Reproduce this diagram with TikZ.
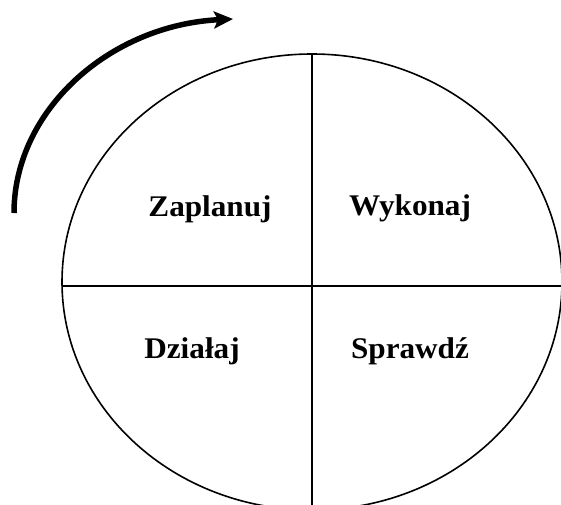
\documentclass[tikz,border=0pt]{standalone}
\usepackage{fontspec}
\setmainfont{Liberation Serif}
\usetikzlibrary{arrows.meta}
\begin{document}
\begin{tikzpicture}[x=1pt,y=-1pt,
  lbl/.style={font=\fontsize{30}{34}\selectfont\bfseries, anchor=base, inner sep=0pt},
  thinline/.style={line width=1.6pt, black},
  cyclearrow/.style={line width=5.5pt, line cap=butt, -{Stealth[length=19pt,width=17pt,inset=4pt]}}]
\useasboundingbox (0,0) rectangle (561,504);
\clip (0,0) rectangle (561,504);
\fill[white] (0,0) rectangle (561,504);
\draw[thinline] (312,282) ellipse [x radius=250, y radius=228];
\coordinate (top) at (312,54);
\coordinate (bot) at (312,510);
\coordinate (lft) at (62,286);
\coordinate (rgt) at (565,286);
\draw[thinline] (top) -- (bot);
\draw[thinline] (lft) -- (rgt);
\coordinate (as) at (14,213);
\coordinate (ae) at (233,19);
\draw[cyclearrow] (as) .. controls (14,110) and (110,25) .. (ae);
\node[lbl] (plan) at (210,216) {\scalebox{1.04}[1]{Zaplanuj}};
\node[lbl] (wyk) at (410,215) {\scalebox{1.04}[1]{Wykonaj}};
\node[lbl] (dzi) at (192,358) {\scalebox{1.04}[1]{Działaj}};
\node[lbl] (spr) at (410,358) {\scalebox{1.04}[1]{Sprawdź}};
\end{tikzpicture}
\end{document}
